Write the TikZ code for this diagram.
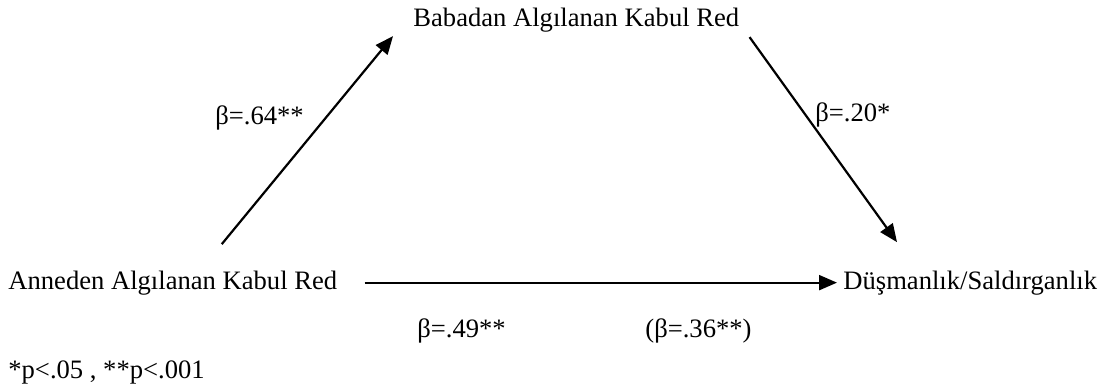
\documentclass[tikz,border=0pt]{standalone}
\usepackage{fontspec}
\setmainfont{Liberation Serif}
\usetikzlibrary{arrows.meta}

\begin{document}
\begin{tikzpicture}[
    x=0.5pt, y=-0.5pt,
    every node/.style={inner sep=0pt,font=\fontsize{13.3}{15}\selectfont,anchor=base west},
    arr/.style={draw,line width=1.1pt,-{Triangle[length=9pt,width=7.5pt]}}
  ]
  \useasboundingbox (0,0) rectangle (1108,390);
  % variables
  \node (baba) at (413,27)  {Babadan Algılanan Kabul Red};
  \node (anne) at (8,289)   {Anneden Algılanan Kabul Red};
  \node (dus)  at (843,289) {Düşmanlık/Saldırganlık};
  % paths
  \draw[arr] ([xshift=24.5pt,yshift=13pt]anne.north) -- ([xshift=-10pt,yshift=-1.5pt]baba.south west);
  \draw[arr] ([xshift=5pt,yshift=-2pt]baba.south east) -- ([xshift=27pt,yshift=14pt]dus.north west);
  \draw[arr] ([xshift=13.5pt]anne.east) -- ([xshift=-3pt]dus.west);
  % coefficients
  \node (b64) at (215,125) {β=.64**};
  \node (b20) at (815,122) {β=.20*};
  \node (b49) at (417,337) {β=.49**};
  \node (b36) at (645,337) {(β=.36**)};
  \node (note) at (8,378)  {*p<.05 , **p<.001};
\end{tikzpicture}
\end{document}
